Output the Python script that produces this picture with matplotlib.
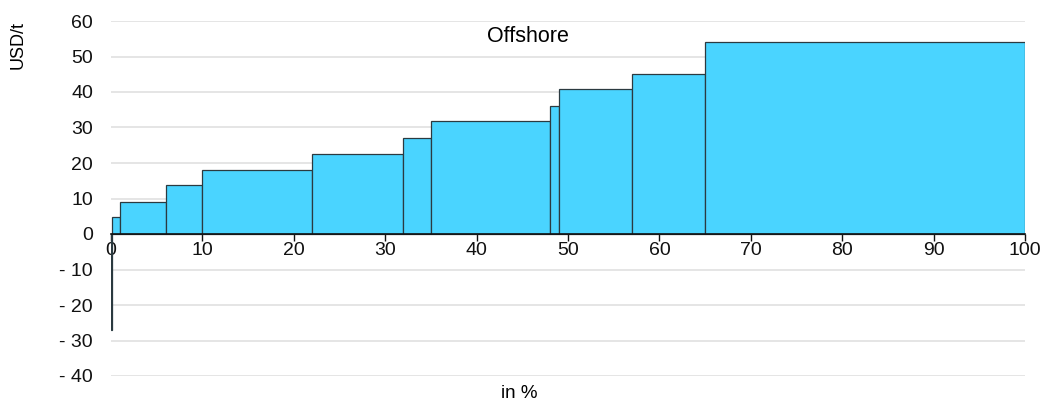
import numpy as np
import matplotlib.pyplot as plt

plt.rcParams['font.family'] = ['Liberation Sans', 'DejaVu Sans']

# cumulative share (%) where each step ends, and cost (USD/t)
edges = [0, 0.1, 1.0, 6.0, 10.0, 22.0, 32.0, 35.0, 48.0, 49.0, 57.0, 65.0, 100.0]
costs = [-27.0, 4.7, 9.0, 13.8, 18.0, 22.5, 27.0, 31.7, 36.0, 40.8, 45.2, 54.0]
xticks = [0, 10, 20, 30, 40, 50, 60, 70, 80, 90, 100]
yticks = [-40, -30, -20, -10, 0, 10, 20, 30, 40, 50, 60]

left = np.array(edges[:-1])
width = np.diff(edges)

fig = plt.figure(figsize=(10.43, 4.03), dpi=100)
ax = fig.add_axes([111/1043, 27/403, 914/1043, 355/403])

ax.bar(left, costs, width, align='edge', color='#4ad4ff',
       edgecolor='#2b3a40', linewidth=0.9, zorder=3)

ax.set_xlim(0, 100)
ax.set_ylim(-40, 60)
ax.set_xticks(xticks)
ax.set_yticks(yticks)
ax.set_yticklabels([str(t) if t >= 0 else '- ' + str(-t) for t in yticks])
ax.grid(axis='y', color='#e0e0e0', linewidth=1.2, zorder=0)

for s in ['top', 'right', 'left']:
    ax.spines[s].set_visible(False)
ax.spines['bottom'].set_position(('data', 0))
ax.spines['bottom'].set_color('#111111')
ax.spines['bottom'].set_linewidth(1.2)
ax.spines['bottom'].set_zorder(4)

ax.tick_params(axis='x', direction='out', length=5, width=1, pad=1,
               labelsize=14, colors='#111111')
ax.tick_params(axis='y', length=0, pad=13, labelsize=14, colors='#111111')

fig.text(528/1043, 1 - 37/403, 'Offshore', ha='center', va='center', fontsize=15.5)
fig.text(519/1043, 1 - 394/403, 'in %', ha='center', va='center', fontsize=13.5)
fig.text(18/1043, 1 - 45/403, 'USD/t', ha='center', va='center', rotation=90, fontsize=13)

fig.savefig('out.png', dpi=100)
